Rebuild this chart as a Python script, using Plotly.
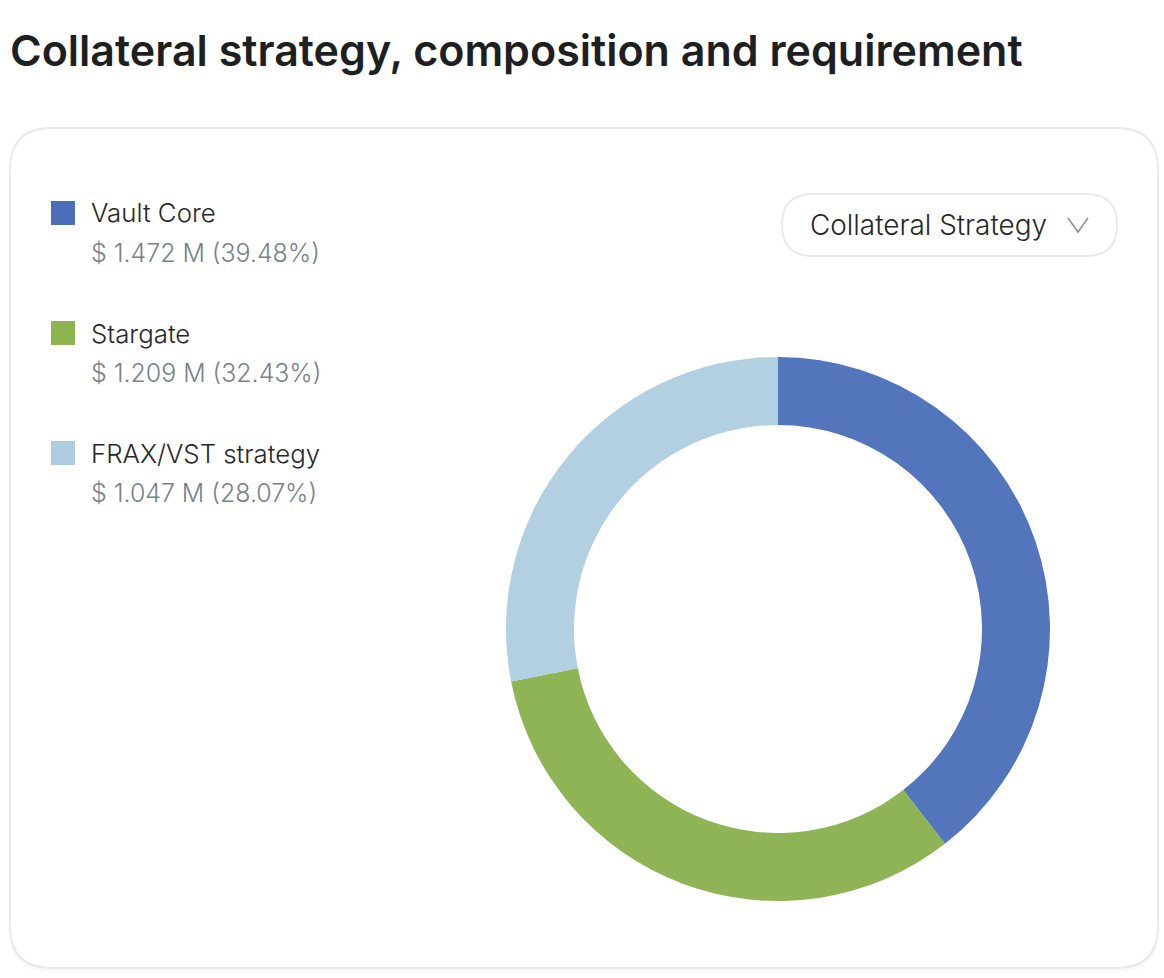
import plotly.graph_objects as go

W, H = 1164, 978

title = "Collateral strategy, composition and requirement"
dropdown_label = "Collateral Strategy"
strategies = ["Vault Core", "Stargate", "FRAX/VST strategy"]
amounts = [1.472, 1.209, 1.047]  # $ M
percents = [39.48, 32.43, 28.07]
colors = ["#5375bc", "#8fb456", "#b3cfe2"]
swatch_colors = ["#4a6fb8", "#8db44f", "#aecde1"]

FONT = "Inter"


def px(x):
    return x / W


def py(y):
    return 1 - y / H


def round_rect(x0, y0, x1, y1, r):
    # rounded box path in page pixels, converted to paper coords
    rx, ry = r / W, r / H
    a, b, c, d = px(x0), py(y0), px(x1), py(y1)
    return (
        f"M {a + rx} {b} L {c - rx} {b} Q {c} {b} {c} {b - ry} "
        f"L {c} {d + ry} Q {c} {d} {c - rx} {d} "
        f"L {a + rx} {d} Q {a} {d} {a} {d + ry} "
        f"L {a} {b - ry} Q {a} {b} {a + rx} {b} Z"
    )


shapes = []
# soft card shadow, then card
for off, col in [(5, "#fbfbfb"), (3, "#f7f7f7")]:
    shapes.append(dict(type="path", xref="paper", yref="paper", layer="below",
                       path=round_rect(10, 128 + off, 1158, 968 + off, 42),
                       fillcolor=col, line=dict(width=0)))
shapes.append(dict(type="path", xref="paper", yref="paper", layer="below",
                   path=round_rect(10, 128, 1158, 968, 42),
                   fillcolor="#ffffff", line=dict(color="#e8eaea", width=2)))
# dropdown pill
shapes.append(dict(type="path", xref="paper", yref="paper",
                   path=round_rect(782, 194, 1117, 256, 31),
                   fillcolor="#ffffff", line=dict(color="#e9ebeb", width=2)))
shapes.append(dict(type="path", xref="paper", yref="paper",
                   path=f"M {px(1068)} {py(218)} L {px(1078)} {py(232)} L {px(1088)} {py(218)}",
                   line=dict(color="#8f9496", width=1.6)))

annotations = [
    dict(text=title, x=px(9), y=py(50), font=dict(size=43, color="#1d1f21", weight=600)),
    dict(text=dropdown_label, x=px(809), y=py(225), font=dict(size=27.9, color="#25282a", weight=300)),
]

for i, name in enumerate(strategies):
    top = 213 + i * 120
    shapes.append(dict(type="rect", xref="paper", yref="paper",
                       x0=px(51), x1=px(75), y0=py(top - 12), y1=py(top + 12),
                       fillcolor=swatch_colors[i], line=dict(width=0)))
    annotations.append(dict(text=name, x=px(90), y=py(top), font=dict(size=25.8, color="#25282a", weight=300)))
    annotations.append(dict(text=f"$ {amounts[i]:.3f} M ({percents[i]:.2f}%)", x=px(89.5), y=py(top + 40),
                            font=dict(size=24.9, color="#76828a", weight=300)))

for a in annotations:
    a.update(xref="paper", yref="paper", xanchor="left", yanchor="middle",
             showarrow=False, borderpad=0)

fig = go.Figure(
    go.Pie(
        labels=strategies,
        values=amounts,
        marker=dict(colors=colors, line=dict(width=0)),
        hole=0.75,
        sort=False,
        direction="clockwise",
        rotation=0,
        textinfo="none",
        hoverinfo="label+percent",
        domain=dict(x=[px(506), px(1050)], y=[py(901), py(357)]),
    )
)
fig.update_layout(
    width=W,
    height=H,
    margin=dict(l=0, r=0, t=0, b=0),
    paper_bgcolor="#ffffff",
    showlegend=False,
    font=dict(family=FONT),
    shapes=shapes,
    annotations=annotations,
)
fig.write_html("out.html", config=dict(displayModeBar=False),
               post_script="document.body.style.margin='0';")
